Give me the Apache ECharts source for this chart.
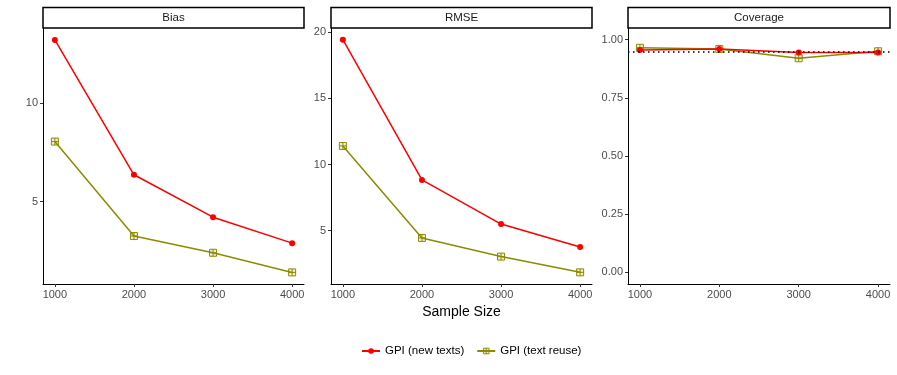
<!DOCTYPE html>
<html>
<head>
<meta charset="utf-8">
<script src="https://cdn.jsdelivr.net/npm/echarts@6/dist/echarts.min.js"></script>
<style>
  html, body { margin: 0; padding: 0; background: #fff; }
  #chart { width: 897px; height: 375px; }
</style>
</head>
<body>
<div id="chart"></div>
<script>
// data
const sampleSizes = [1000, 2000, 3000, 4000];
const panels = ['Bias', 'RMSE', 'Coverage'];
const seriesNames = ['GPI (new texts)', 'GPI (text reuse)'];

const biasNew = [13.22, 6.36, 4.2, 2.88];
const biasReuse = [8.05, 3.24, 2.39, 1.39];
const rmseNew = [19.43, 8.83, 5.5, 3.77];
const rmseReuse = [11.4, 4.45, 3.04, 1.85];
const coverageNew = [0.955, 0.96, 0.945, 0.945];
const coverageReuse = [0.965, 0.96, 0.92, 0.95];
const coverageTarget = 0.95;

const yTicks = [[5, 10], [5, 10, 15, 20], [0, 0.25, 0.5, 0.75, 1]];
const yRanges = [[0.8, 13.83], [0.97, 20.31], [-0.05, 1.05]];

const COLORS = { red: '#ff0000', olive: '#8b8b00' };
const OLIVE_FILL = 'rgba(139,139,0,0.15)';
const SQUARE_PLUS = 'path://M0,0H10V10H0Z M5,0V10 M0,5H10';
const FONT = 'Liberation Sans, Arial, sans-serif';

// layout
const plotTop = 28;
const plotBottom = 91;
const grids = [
  { left: 43, width: 261 },
  { left: 331, width: 261 },
  { left: 628, width: 262 },
];

const chart = echarts.init(document.getElementById('chart'));

const pairs = (xs, ys) => xs.map((x, i) => [x, ys[i]]);
const values = [[biasNew, biasReuse], [rmseNew, rmseReuse], [coverageNew, coverageReuse]];

const axisCommon = {
  axisLine: { show: true, onZero: false, lineStyle: { color: '#000', width: 1 } },
  axisTick: { show: true, length: 3, lineStyle: { color: '#333' } },
  axisLabel: { color: '#4d4d4d', fontSize: 11, fontFamily: FONT, margin: 5 },
  splitLine: { show: false },
};

const series = [];
panels.forEach((p, i) => {
  series.push({
    name: seriesNames[0],
    type: 'line',
    xAxisIndex: i,
    yAxisIndex: i,
    data: pairs(sampleSizes, values[i][0]),
    symbol: 'circle',
    symbolSize: 6,
    lineStyle: { color: COLORS.red, width: 1.5 },
    itemStyle: { color: COLORS.red },
    z: 3,
    markLine: i === 2 ? {
      silent: true,
      symbol: 'none',
      label: { show: false },
      lineStyle: { color: '#000', type: [1.5, 3.5], width: 1.6 },
      data: [{ yAxis: coverageTarget }],
      z: 5,
    } : undefined,
  });
  series.push({
    name: seriesNames[1],
    type: 'line',
    xAxisIndex: i,
    yAxisIndex: i,
    data: pairs(sampleSizes, values[i][1]),
    symbol: SQUARE_PLUS,
    symbolSize: 7,
    lineStyle: { color: COLORS.olive, width: 1.5 },
    itemStyle: { color: OLIVE_FILL, borderColor: COLORS.olive, borderWidth: 1 },
    z: 2,
  });
});

const strips = grids.map((g, i) => ({
  type: 'rect',
  shape: { x: g.left, y: 7.5, width: g.width, height: 20.5 },
  style: { fill: '#fff', stroke: '#000', lineWidth: 1.5 },
  textContent: {
    style: { text: panels[i], fontSize: 11.5, fill: '#1a1a1a', fontFamily: FONT },
  },
  textConfig: { position: 'inside' },
}));

chart.setOption({
  animation: false,
  backgroundColor: '#fff',
  grid: grids.map(g => ({ left: g.left, width: g.width, top: plotTop, bottom: plotBottom })),
  xAxis: grids.map((g, i) => ({
    type: 'value',
    gridIndex: i,
    min: 850,
    max: 4150,
    ...axisCommon,
    axisTick: { ...axisCommon.axisTick, customValues: sampleSizes },
    axisLabel: { ...axisCommon.axisLabel, customValues: sampleSizes, formatter: v => String(v) },
    name: i === 1 ? 'Sample Size' : '',
    nameLocation: 'middle',
    nameGap: 21,
    nameTextStyle: { fontSize: 14, color: '#000', fontFamily: FONT },
  })),
  yAxis: grids.map((g, i) => ({
    type: 'value',
    gridIndex: i,
    min: yRanges[i][0],
    max: yRanges[i][1],
    ...axisCommon,
    axisTick: { ...axisCommon.axisTick, customValues: yTicks[i] },
    axisLabel: {
      ...axisCommon.axisLabel,
      customValues: yTicks[i],
      formatter: v => (i === 2 ? v.toFixed(2) : String(v)),
    },
  })),
  legend: {
    bottom: 13,
    left: 356,
    data: [
      { name: seriesNames[0] },
      { name: seriesNames[1], itemStyle: { color: OLIVE_FILL, borderColor: COLORS.olive, borderWidth: 1 } },
    ],
    itemWidth: 18,
    itemHeight: 7,
    itemGap: 12,
    textStyle: { fontSize: 11.5, color: '#000', fontFamily: FONT },
  },
  graphic: strips,
  series,
});
</script>
</body>
</html>
